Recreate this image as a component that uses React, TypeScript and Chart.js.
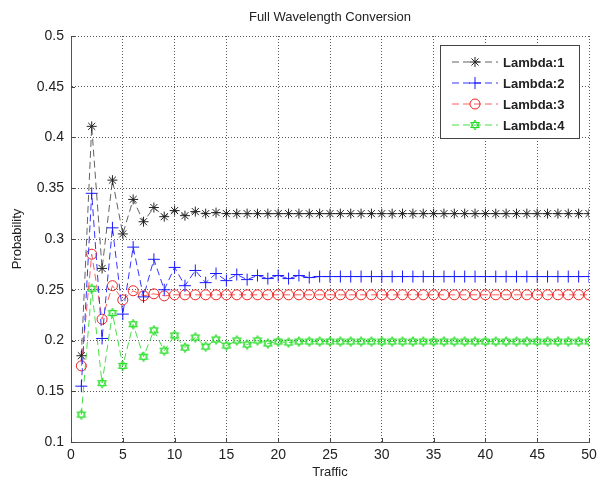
import React, { useEffect, useRef } from "react";
import { Chart, registerables } from "chart.js";
import { drawPoint } from "chart.js/helpers";

Chart.register(...registerables);

const traffic = [
  1, 2, 3, 4, 5, 6, 7, 8, 9, 10, 11, 12, 13, 14, 15, 16, 17, 18, 19, 20, 21, 22, 23, 24, 25,
  26, 27, 28, 29, 30, 31, 32, 33, 34, 35, 36, 37, 38, 39, 40, 41, 42, 43, 44, 45, 46, 47, 48, 49, 50,
];

const lambda1 = [
  0.185, 0.411, 0.271, 0.358, 0.305, 0.339, 0.317, 0.331, 0.322, 0.328, 0.323, 0.327, 0.325, 0.326, 0.325,
  0.325, 0.325, 0.325, 0.325, 0.325, 0.325, 0.325, 0.325, 0.325, 0.325, 0.325, 0.325, 0.325, 0.325, 0.325,
  0.325, 0.325, 0.325, 0.325, 0.325, 0.325, 0.325, 0.325, 0.325, 0.325, 0.325, 0.325, 0.325, 0.325, 0.325,
  0.325, 0.325, 0.325, 0.325, 0.325,
];

const lambda2 = [
  0.155, 0.345, 0.202, 0.311, 0.226, 0.292, 0.243, 0.28, 0.25, 0.272, 0.254, 0.269, 0.257, 0.266, 0.259,
  0.265, 0.26, 0.264, 0.261, 0.264, 0.261, 0.264, 0.262, 0.263, 0.263, 0.263, 0.263, 0.263, 0.263, 0.263,
  0.263, 0.263, 0.263, 0.263, 0.263, 0.263, 0.263, 0.263, 0.263, 0.263, 0.263, 0.263, 0.263, 0.263, 0.263,
  0.263, 0.263, 0.263, 0.263, 0.263,
];

const lambda3 = [
  0.175, 0.285, 0.221, 0.254, 0.24, 0.249, 0.244, 0.246, 0.244, 0.245, 0.245, 0.245, 0.245, 0.245, 0.245,
  0.245, 0.245, 0.245, 0.245, 0.245, 0.245, 0.245, 0.245, 0.245, 0.245, 0.245, 0.245, 0.245, 0.245, 0.245,
  0.245, 0.245, 0.245, 0.245, 0.245, 0.245, 0.245, 0.245, 0.245, 0.245, 0.245, 0.245, 0.245, 0.245, 0.245,
  0.245, 0.245, 0.245, 0.245, 0.245,
];

const lambda4 = [
  0.127, 0.251, 0.158, 0.227, 0.175, 0.216, 0.184, 0.21, 0.19, 0.205, 0.193, 0.203, 0.194, 0.201, 0.195,
  0.2, 0.196, 0.2, 0.197, 0.199, 0.198, 0.199, 0.199, 0.199, 0.199, 0.199, 0.199, 0.199, 0.199, 0.199,
  0.199, 0.199, 0.199, 0.199, 0.199, 0.199, 0.199, 0.199, 0.199, 0.199, 0.199, 0.199, 0.199, 0.199, 0.199,
  0.199, 0.199, 0.199, 0.199, 0.199,
];

const seriesLabels = ["Lambda:1", "Lambda:2", "Lambda:3", "Lambda:4"];
const titleText = "Full Wavelength Conversion";
const xTitle = "Traffic";
const yTitle = "Probability";

const FONT = "'Liberation Sans', Arial, sans-serif";

function makeHexagram(color: string): HTMLCanvasElement {
  const c = document.createElement("canvas");
  c.width = 12;
  c.height = 12;
  const g = c.getContext("2d")!;
  g.strokeStyle = color;
  g.lineWidth = 1;
  const cx = 6, cy = 6, r = 5;
  for (let t = 0; t < 2; t++) {
    g.beginPath();
    for (let k = 0; k < 3; k++) {
      const a = -Math.PI / 2 + t * Math.PI + (k * 2 * Math.PI) / 3;
      const px = cx + r * Math.cos(a);
      const py = cy + r * Math.sin(a);
      if (k === 0) g.moveTo(px, py);
      else g.lineTo(px, py);
    }
    g.closePath();
    g.stroke();
  }
  return c;
}

export default function App() {
  const ref = useRef<HTMLCanvasElement | null>(null);

  useEffect(() => {
    if (!ref.current) return;
    const hex = makeHexagram("#22dd22");
    const styles = [
      { line: "rgba(70,70,70,0.85)", pt: "#222", style: "star", r: 5 },
      { line: "#3535ff", pt: "#1a1aff", style: "cross", r: 6 },
      { line: "#ff5a5a", pt: "#ee2222", style: "circle", r: 5 },
      { line: "#4ade4a", pt: "#22dd22", style: hex as any, r: 5 },
    ];
    const values = [lambda1, lambda2, lambda3, lambda4];

    const decor = {
      id: "decor",
      afterDraw(chart: any) {
        const ctx = chart.ctx;
        const a = chart.chartArea;
        const xs = chart.scales.x;
        const ys = chart.scales.y;
        ctx.save();
        ctx.strokeStyle = "#444";
        ctx.lineWidth = 1;
        ctx.setLineDash([]);
        ys.ticks.forEach((t: any) => {
          const y = Math.round(ys.getPixelForValue(t.value)) + 0.5;
          ctx.beginPath();
          ctx.moveTo(a.left, y);
          ctx.lineTo(a.left + 4, y);
          ctx.stroke();
        });
        xs.ticks.forEach((t: any) => {
          const x = Math.round(xs.getPixelForValue(t.value)) + 0.5;
          ctx.beginPath();
          ctx.moveTo(x, a.bottom);
          ctx.lineTo(x, a.bottom - 4);
          ctx.stroke();
        });
        // title
        ctx.fillStyle = "#222";
        ctx.font = `13px ${FONT}`;
        ctx.textAlign = "center";
        ctx.textBaseline = "middle";
        ctx.fillText(titleText, (a.left + a.right) / 2, 17);
        // legend
        const lw = 139, lh = 93;
        const lx = a.right - 10 - lw;
        const ly = a.top + 9;
        ctx.fillStyle = "#fff";
        ctx.fillRect(lx, ly, lw, lh);
        ctx.strokeStyle = "#444";
        ctx.strokeRect(lx + 0.5, ly + 0.5, lw, lh);
        chart.data.datasets.forEach((ds: any, i: number) => {
          const y = ly + 17 + i * 21;
          ctx.strokeStyle = ds.borderColor;
          ctx.lineWidth = 1;
          ctx.setLineDash([7, 4]);
          ctx.beginPath();
          ctx.moveTo(lx + 12, y);
          ctx.lineTo(lx + 58, y);
          ctx.stroke();
          ctx.setLineDash([]);
          ctx.strokeStyle = ds.pointBorderColor;
          ctx.fillStyle = "rgba(0,0,0,0)";
          ctx.lineWidth = 1;
          drawPoint(ctx, {
            pointStyle: ds.pointStyle,
            radius: ds.pointRadius,
            rotation: 0,
            borderWidth: 1,
          } as any, lx + 35, y);
          ctx.fillStyle = "#222";
          ctx.font = `bold 13px ${FONT}`;
          ctx.textAlign = "left";
          ctx.textBaseline = "middle";
          ctx.fillText(ds.label, lx + 63, y + 1);
        });
        ctx.restore();
      },
    };

    const gridCommon = {
      color: "rgba(0,0,0,0.65)",
      drawTicks: false,
      lineWidth: 1,
      borderDash: [1, 2],
    } as any;

    const chart = new Chart(ref.current, {
      type: "line",
      data: {
        datasets: values.map((vals, i) => ({
          label: seriesLabels[i],
          data: vals.map((v, j) => ({ x: traffic[j], y: v })),
          borderColor: styles[i].line,
          borderWidth: 1,
          borderDash: [7, 4],
          pointStyle: styles[i].style as any,
          pointRadius: styles[i].r,
          pointBorderColor: styles[i].pt,
          pointBackgroundColor: "rgba(0,0,0,0)",
          pointBorderWidth: 1,
          fill: false,
          tension: 0,
        })),
      },
      options: {
        animation: false,
        responsive: false,
        layout: { padding: { top: 36, right: 13, left: 0, bottom: 0 } },
        plugins: {
          legend: { display: false },
          tooltip: { enabled: false },
          title: { display: false },
        },
        scales: {
          x: {
            type: "linear",
            min: 0,
            max: 50,
            ticks: {
              stepSize: 5,
              color: "#222",
              font: { family: FONT, size: 14 },
              padding: 5,
              maxRotation: 0,
            },
            grid: gridCommon,
            border: { display: true, color: "#555", dash: [1, 2] },
            title: {
              display: true,
              text: xTitle,
              color: "#222",
              font: { family: FONT, size: 13 },
              padding: { top: 0, bottom: 5 },
            },
            afterFit(scale: any) {
              scale.height = 43;
            },
          },
          y: {
            type: "linear",
            min: 0.1,
            max: 0.5,
            ticks: {
              stepSize: 0.05,
              color: "#222",
              font: { family: FONT, size: 14 },
              padding: 7,
              callback: (v: any) => String(Number(Number(v).toFixed(2))),
            },
            grid: gridCommon,
            border: { display: true, color: "#555", dash: [1, 2] },
            title: {
              display: true,
              text: yTitle,
              color: "#222",
              font: { family: FONT, size: 13 },
              padding: { top: 10, bottom: 0 },
            },
            afterFit(scale: any) {
              scale.width = 71;
            },
          },
        },
      },
      plugins: [decor],
    });
    return () => chart.destroy();
  }, []);

  return (
    <div style={{ position: "fixed", left: 0, top: 0, width: 602, height: 485, background: "#fff" }}>
      <canvas ref={ref} width={602} height={485} style={{ display: "block" }} />
    </div>
  );
}
